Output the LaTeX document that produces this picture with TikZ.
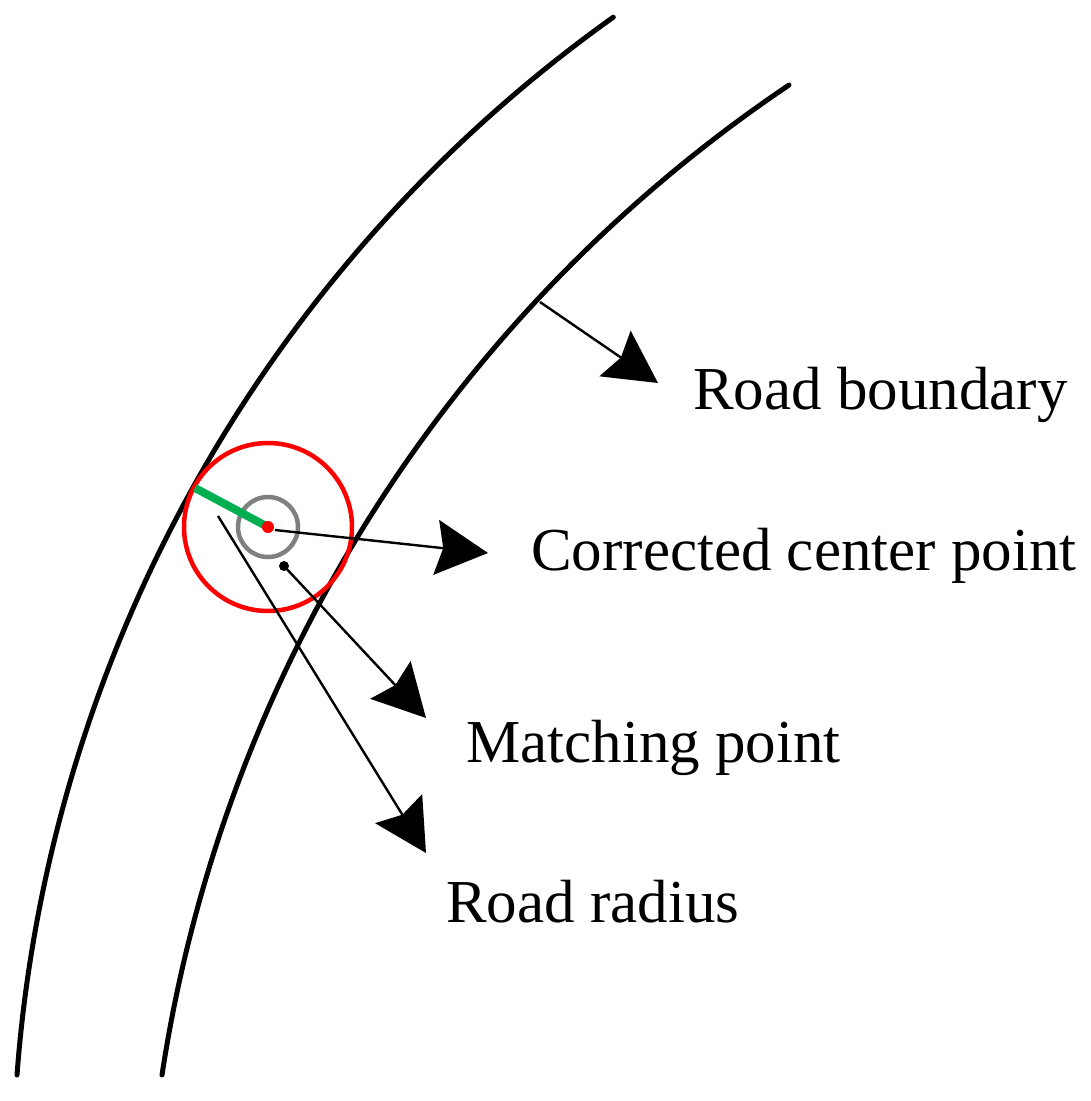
\documentclass[tikz,border=0pt]{standalone}
\usepackage{fontspec}
\setmainfont{Liberation Serif}
\usetikzlibrary{arrows.meta}
\definecolor{pgreen}{RGB}{0,176,80}
\definecolor{pgray}{RGB}{128,128,128}
\tikzset{
  boundary/.style={line width=5pt, line cap=round},
  pointer/.style={line width=2.4pt, -{Stealth[length=52pt, width=55pt, inset=7pt]}},
  label/.style={anchor=base west, inner sep=0pt, font=\fontsize{61}{68}\selectfont}
}
\begin{document}
\begin{tikzpicture}[x=1pt, y=-1pt]
\useasboundingbox (0,0) rectangle (1091,1101);
% road boundaries
\draw[boundary] (17,1075) arc[start angle=184.29, end angle=234.53, radius=1430.3];
\draw[boundary] (162,1075) arc[start angle=188.64, end angle=236.06, radius=1457.1];
% circles
\coordinate (ctr) at (268,527);
\draw[red, line width=4.5pt] (ctr) circle[radius=84];
\draw[pgray, line width=4.5pt] (ctr) circle[radius=30];
\draw[pgreen, line width=8pt] (195,488) -- (ctr);
\fill[red] (ctr) circle[radius=6];
\coordinate (mp) at (284,566);
\fill[black] (mp) circle[radius=5];
% pointer coordinates
\coordinate (rbS) at (540,302);
\coordinate (rbT) at (658,383);
\coordinate (ccS) at (275,530);
\coordinate (ccT) at (488,553);
\coordinate (mpT) at (426,718);
\coordinate (rrS) at (218,516);
\coordinate (rrT) at (426,853);
\draw[pointer] (rbS) -- (rbT);
\draw[pointer] (ccS) -- (ccT);
\draw[pointer] (mp) -- (mpT);
\draw[pointer] (rrS) -- (rrT);
% labels
\node[label] (lrb) at (693,409) {Road boundary};
\node[label] (lcc) at (531,570) {Corrected center point};
\node[label] (lmp) at (466,762) {Matching point};
\node[label] (lrr) at (446,922) {Road radius};
\end{tikzpicture}
\end{document}
